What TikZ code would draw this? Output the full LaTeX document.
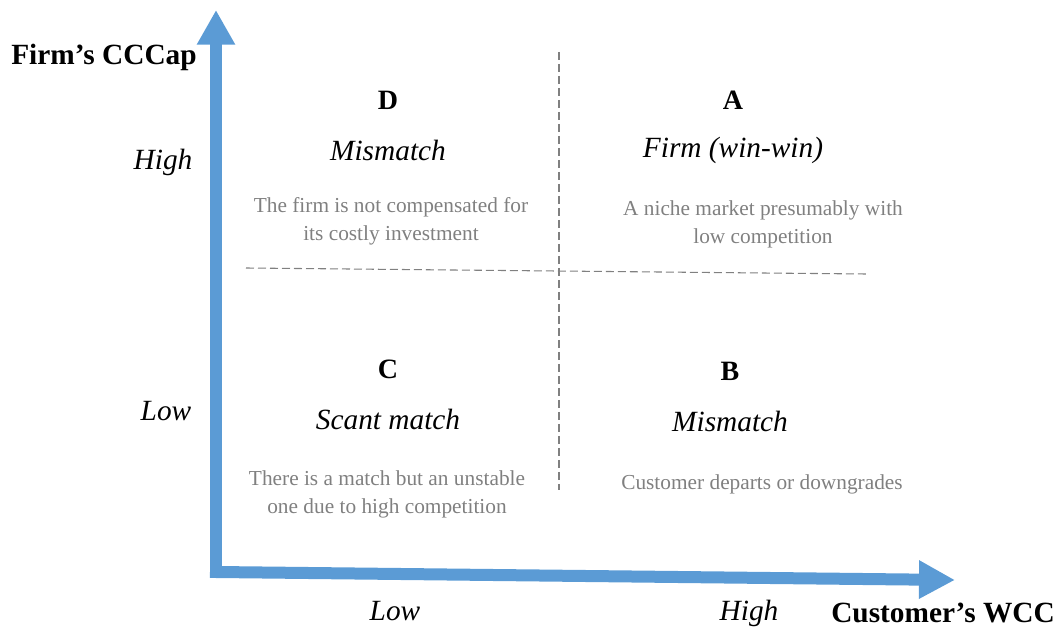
\documentclass[tikz,border=0pt]{standalone}
\usepackage{fontspec}
\setmainfont{Liberation Serif}
\definecolor{axisblue}{RGB}{91,155,213}
\colorlet{notegray}{black!50}
\usetikzlibrary{arrows.meta,positioning}
\tikzstyle{axis}=[draw=axisblue,line width=9pt,line cap=rect]
\tikzstyle{split}=[draw=notegray,line width=0.8pt,dash pattern=on 6pt off 3pt]
\tikzstyle{title}=[font=\fontsize{22}{26}\selectfont\bfseries,inner sep=0pt]
\tikzstyle{level}=[font=\fontsize{22}{26}\selectfont\itshape,inner sep=0pt]
\tikzstyle{letter}=[font=\fontsize{21}{25}\selectfont\bfseries,inner sep=0pt]
\tikzstyle{verdict}=[font=\fontsize{22}{26}\selectfont\itshape,inner sep=0pt]
\tikzstyle{note}=[font=\fontsize{16}{21}\selectfont,text=notegray,align=center,
  inner sep=0pt]

\begin{document}
\begin{tikzpicture}[x=0.75pt, y=-0.75pt, node distance=37.5pt, on grid]
  \useasboundingbox (0,0) rectangle (1058,627);

  % axes
  \coordinate (origin) at (216,572);
  \coordinate (ytip) at (216,10);
  \coordinate (xtip) at (955,580);
  \draw[axis, -{Triangle[length=26pt,width=27pt]}] (origin) -- (ytip);
  \draw[axis, -{Triangle[length=27pt,width=27pt]}] (origin) -- (xtip);

  % quadrant borders
  \coordinate (vtop) at (559,52);
  \coordinate (vbot) at (559,490);
  \coordinate (hleft) at (246,268);
  \coordinate (hright) at (866,274);
  \draw[split] (vtop) -- (vbot);
  \draw[split] (hleft) -- (hright);

  \node[title] (ylabel) at (104,57) {Firm’s CCCap};
  \node[level] (yhigh) at (163,162) {High};
  \node[level] (ylow) at (166,411) {Low};
  \node[level] (xlow) at (395,611) {Low};
  \node[level] (xhigh) at (749,613) {High};
  \node[title] (xlabel) at (943,613) {Customer’s WCC};

  \node[letter] (D) at (388,100) {D};
  \node[verdict, below=of D] (Dname) {Mismatch};
  \node[note] (Dnote) at (391,221) {The firm is not compensated for\\its costly investment};

  \node[letter] (A) at (733,100) {A};
  \node[verdict, below=of A] (Aname) {Firm (win-win)};
  \node[note] (Anote) at (763,224) {A niche market presumably with\\low competition};

  \node[letter] (C) at (388,369) {C};
  \node[verdict, below=of C] (Cname) {Scant match};
  \node[note] (Cnote) at (387,494) {There is a match but an unstable\\one due to high competition};

  \node[letter] (B) at (730,371) {B};
  \node[verdict, below=of B] (Bname) {Mismatch};
  \node[note] (Bnote) at (762,484) {Customer departs or downgrades};
\end{tikzpicture}
\end{document}
